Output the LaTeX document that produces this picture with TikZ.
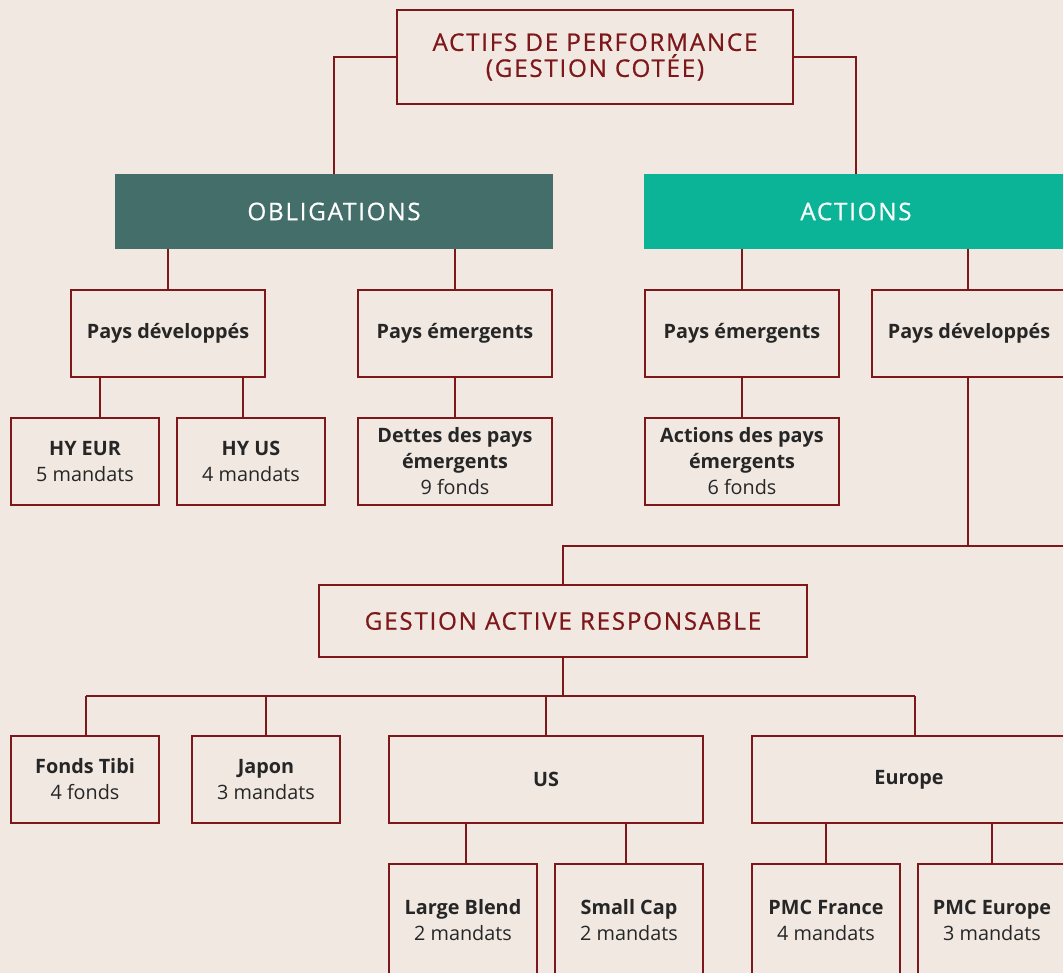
\documentclass[tikz,border=0pt]{standalone}
\usepackage{fontspec}
\setmainfont{Open Sans}
\newfontfamily\spacedfont[LetterSpace=7,FakeBold=0.6]{Open Sans}
\usetikzlibrary{calc}
\definecolor{bg}{HTML}{F0E8E1}
\definecolor{dred}{HTML}{7E1719}
\definecolor{txt}{HTML}{262626}
\definecolor{obl}{HTML}{446E69}
\definecolor{act}{HTML}{0BB497}
\tikzset{
  box/.style={draw=dred, line width=2.8pt, fill=bg, inner sep=0pt, align=center,
    text=txt, font=\fontsize{19.8}{26}\selectfont},
  titlebox/.style={draw=dred, line width=2.8pt, fill=bg, inner sep=0pt, align=center,
    text=dred, font=\spacedfont\fontsize{24.3}{26}\selectfont},
  catbox/.style={draw=none, inner sep=0pt, align=center, text=white,
    font=\spacedfont\fontsize{24.3}{26}\selectfont},
  link/.style={draw=dred, line width=2.8pt},
}
\begin{document}
\begin{tikzpicture}[x=1pt,y=-1pt]
\fill[bg] (0,0) rectangle (1063,973);
\useasboundingbox (0,0) rectangle (1063,973);
\clip (0,0) rectangle (1063,973);

% nodes
\node[titlebox, minimum width=396pt, minimum height=94pt] (top) at (595,57) {ACTIFS DE PERFORMANCE\\(GESTION COTÉE)};
\node[catbox, fill=obl, minimum width=438pt, minimum height=75pt] (oblig) at (334,211.5) {OBLIGATIONS};
\node[catbox, fill=act, minimum width=424pt, minimum height=75pt] (actions) at (856,211.5) {ACTIONS};

\node[box, minimum width=194pt, minimum height=87pt] (pdo) at (168,333.5) {\textbf{Pays développés}};
\node[box, minimum width=194pt, minimum height=87pt] (peo) at (455,333.5) {\textbf{Pays émergents}};
\node[box, minimum width=194pt, minimum height=87pt] (pea) at (742,333.5) {\textbf{Pays émergents}};
\node[box, minimum width=194pt, minimum height=87pt] (pda) at (969,333.5) {\textbf{Pays développés}};

\node[box, minimum width=148pt, minimum height=87pt] (hyeur) at (85,461.5) {\textbf{HY EUR}\\5 mandats};
\node[box, minimum width=148pt, minimum height=87pt] (hyus) at (251,461.5) {\textbf{HY US}\\4 mandats};
\node[box, minimum width=194pt, minimum height=87pt] (dettes) at (455,461.5) {\textbf{Dettes des pays}\\\textbf{émergents}\\9 fonds};
\node[box, minimum width=194pt, minimum height=87pt] (ape) at (742,461.5) {\textbf{Actions des pays}\\\textbf{émergents}\\6 fonds};

\node[titlebox, minimum width=488pt, minimum height=72pt] (gar) at (563,621) {GESTION ACTIVE RESPONSABLE};

\node[box, minimum width=148pt, minimum height=87pt] (tibi) at (85,779.5) {\textbf{Fonds Tibi}\\4 fonds};
\node[box, minimum width=148pt, minimum height=87pt] (japon) at (266,779.5) {\textbf{Japon}\\3 mandats};
\node[box, minimum width=314pt, minimum height=87pt] (us) at (546,779.5) {\textbf{US}};
\node[box, minimum width=314pt, minimum height=87pt] (europe) at (909,779.5) {\textbf{Europe}};

\node[box, minimum width=148pt, minimum height=112pt] (lb) at (463,920) {\textbf{Large Blend}\\2 mandats};
\node[box, minimum width=148pt, minimum height=112pt] (sc) at (629,920) {\textbf{Small Cap}\\2 mandats};
\node[box, minimum width=148pt, minimum height=112pt] (pmcf) at (826,920) {\textbf{PMC France}\\4 mandats};
\node[box, minimum width=148pt, minimum height=112pt] (pmce) at (992,920) {\textbf{PMC Europe}\\3 mandats};

% connectors
\coordinate (garbar) at (0,546);
\coordinate (garedge) at (1080,546);
\coordinate (subbar) at (0,696);

\draw[link] (top.west) -| (oblig.north);
\draw[link] (top.east) -| (actions.north);
\draw[link] (pdo.north) -- (pdo.north |- oblig.south);
\draw[link] (peo.north) -- (peo.north |- oblig.south);
\draw[link] (pea.north) -- (pea.north |- actions.south);
\draw[link] ([xshift=-1pt]pda.north) -- ([xshift=-1pt]pda.north |- actions.south);

\draw[link] ([xshift=15pt]hyeur.north) -- ([xshift=15pt]hyeur.north |- pdo.south);
\draw[link] ([xshift=-8pt]hyus.north) -- ([xshift=-8pt]hyus.north |- pdo.south);
\draw[link] (dettes.north) -- (peo.south);
\draw[link] (ape.north) -- (pea.south);

\draw[link] ([xshift=-1pt]pda.south) -- ([xshift=-1pt]pda.south |- garbar);
\draw[link] (garedge) -- (garedge -| gar.north) -- (gar.north);

\draw[link] (gar.south) -- (gar.south |- subbar);
\draw[link] ([xshift=1pt]tibi.north |- subbar) -- ([xshift=6pt]europe.north |- subbar);
\draw[link] ([xshift=1pt]tibi.north) -- ([xshift=1pt]tibi.north |- subbar);
\draw[link] (japon.north) -- (japon.north |- subbar);
\draw[link] (us.north) -- (us.north |- subbar);
\draw[link] ([xshift=6pt]europe.north) -- ([xshift=6pt]europe.north |- subbar);

\draw[link] ([xshift=3pt]lb.north) -- ([xshift=3pt]lb.north |- us.south);
\draw[link] ([xshift=-3pt]sc.north) -- ([xshift=-3pt]sc.north |- us.south);
\draw[link] (pmcf.north) -- (pmcf.north |- europe.south);
\draw[link] (pmce.north) -- (pmce.north |- europe.south);
\end{tikzpicture}
\end{document}
